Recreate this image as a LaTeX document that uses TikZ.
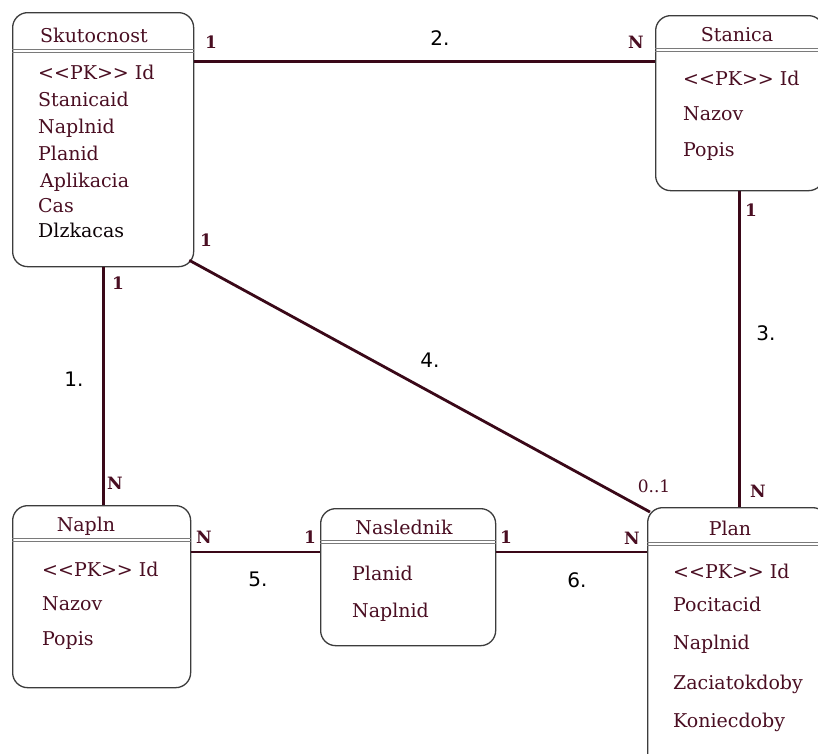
\documentclass[tikz,border=0pt]{standalone}
\usepackage{fontspec}
\setmainfont{DejaVu Serif}
\newfontfamily\numfont{DejaVu Sans}
\usetikzlibrary{calc}
\definecolor{maroon}{HTML}{4A0E22}
\definecolor{linkcol}{HTML}{3A0818}
\definecolor{frame}{HTML}{3C3C3C}
\definecolor{rule}{HTML}{7A7A7A}
\tikzset{
  entity/.style={draw=frame, line width=1.3pt, rounded corners=15pt, anchor=north west, inner sep=0pt},
  title/.style={text=maroon, font=\fontsize{19}{19}\selectfont, anchor=base},
  attr/.style={text=maroon, font=\fontsize{19}{19}\selectfont, anchor=base west, inner sep=0pt},
  link/.style={draw=linkcol, line width=2.8pt},
  card/.style={text=maroon, font=\bfseries\fontsize{17}{17}\selectfont, inner sep=0pt},
  relnum/.style={text=black, font=\numfont\fontsize{20}{20}\selectfont, inner sep=0pt},
}
\newcommand{\pkid}{<{}<PK>{}> Id}
\newcommand{\headrule}[2]{%
  \draw[rule, line width=1pt] ($(#1.north west)+(0,#2)$) -- ($(#1.north east)+(0,#2)$);
  \draw[rule, line width=1pt] ($(#1.north west)+(0,#2+3.5)$) -- ($(#1.north east)+(0,#2+3.5)$);}
\begin{document}
\begin{tikzpicture}[x=1pt,y=-1pt]
\clip (0,0) rectangle (818,753);
\fill[white] (0,0) rectangle (818,753);

% entities
\node[entity, minimum width=181pt, minimum height=254pt] (sk) at (12,12) {};
\node[entity, minimum width=168pt, minimum height=175pt] (st) at (655,15) {};
\node[entity, minimum width=178pt, minimum height=182pt] (np) at (12,505) {};
\node[entity, minimum width=175pt, minimum height=137pt] (ns) at (320,508) {};
\node[entity, minimum width=180pt, minimum height=260pt] (pl) at (647,507) {};

\headrule{sk}{37}
\headrule{st}{33}
\headrule{np}{33}
\headrule{ns}{32}
\headrule{pl}{35}

% titles
\node[title] (skt) at (94,42) {Skutocnost};
\node[title] (stt) at (737,41) {Stanica};
\node[title] (npt) at (86,531) {Napln};
\node[title] (nst) at (404,534) {Naslednik};
\node[title] (plt) at (730,535) {Plan};

% attributes
\node[attr] (sk1) at (38,79) {\pkid};
\node[attr] (sk2) at (38,106) {Stanicaid};
\node[attr] (sk3) at (38,133) {Naplnid};
\node[attr] (sk4) at (38,160) {Planid};
\node[attr] (sk5) at (40,187) {Aplikacia};
\node[attr] (sk6) at (38,212) {Cas};
\node[attr, text=black!85!maroon] (sk7) at (38,237) {Dlzkacas};

\node[attr] (st1) at (683,85) {\pkid};
\node[attr] (st2) at (683,120) {Nazov};
\node[attr] (st3) at (683,156) {Popis};

\node[attr] (np1) at (42,576) {\pkid};
\node[attr] (np2) at (42,610) {Nazov};
\node[attr] (np3) at (42,645) {Popis};

\node[attr] (ns1) at (352,580) {Planid};
\node[attr] (ns2) at (352,617) {Naplnid};

\node[attr] (pl1) at (673,578) {\pkid};
\node[attr] (pl2) at (673,611) {Pocitacid};
\node[attr] (pl3) at (673,649) {Naplnid};
\node[attr] (pl4) at (673,689) {Zaciatokdoby};
\node[attr] (pl5) at (673,727) {Koniecdoby};

% relationships
\draw[link] ($(sk.north east)+(0,49.5)$) -- ($(st.north west)+(0,46.5)$);
\draw[link] (sk.south) -- (sk.south |- np.north);
\draw[link] ($(sk.south east)+(-5,-7)$) -- ($(pl.north west)+(3,5)$);
\draw[link] (st.south) -- (st.south |- pl.north);
\draw[link] ($(np.north east)+(0,47)$) -- ($(ns.north west)+(0,44)$);
\draw[link] ($(ns.north east)+(0,44)$) -- ($(pl.north west)+(0,45)$);

% cardinalities
\node[card] (c2a) at (211,42) {1};
\node[card] (c2b) at (636,42) {N};
\node[card] (c1a) at (118,283) {1};
\node[card] (c1b) at (115,483) {N};
\node[card] (c4a) at (206,240) {1};
\node[card, font=\fontsize{17}{17}\selectfont] (c4b) at (654,486) {0..1};
\node[card] (c3a) at (751,210) {1};
\node[card] (c3b) at (758,491) {N};
\node[card] (c5a) at (204,537) {N};
\node[card] (c5b) at (310,537) {1};
\node[card] (c6a) at (506,537) {1};
\node[card] (c6b) at (632,538) {N};

% relationship numbers
\node[relnum] (r1) at (74,379) {1.};
\node[relnum] (r2) at (440,38) {2.};
\node[relnum] (r3) at (766,333) {3.};
\node[relnum] (r4) at (430,360) {4.};
\node[relnum] (r5) at (258,579) {5.};
\node[relnum] (r6) at (577,580) {6.};
\end{tikzpicture}
\end{document}
